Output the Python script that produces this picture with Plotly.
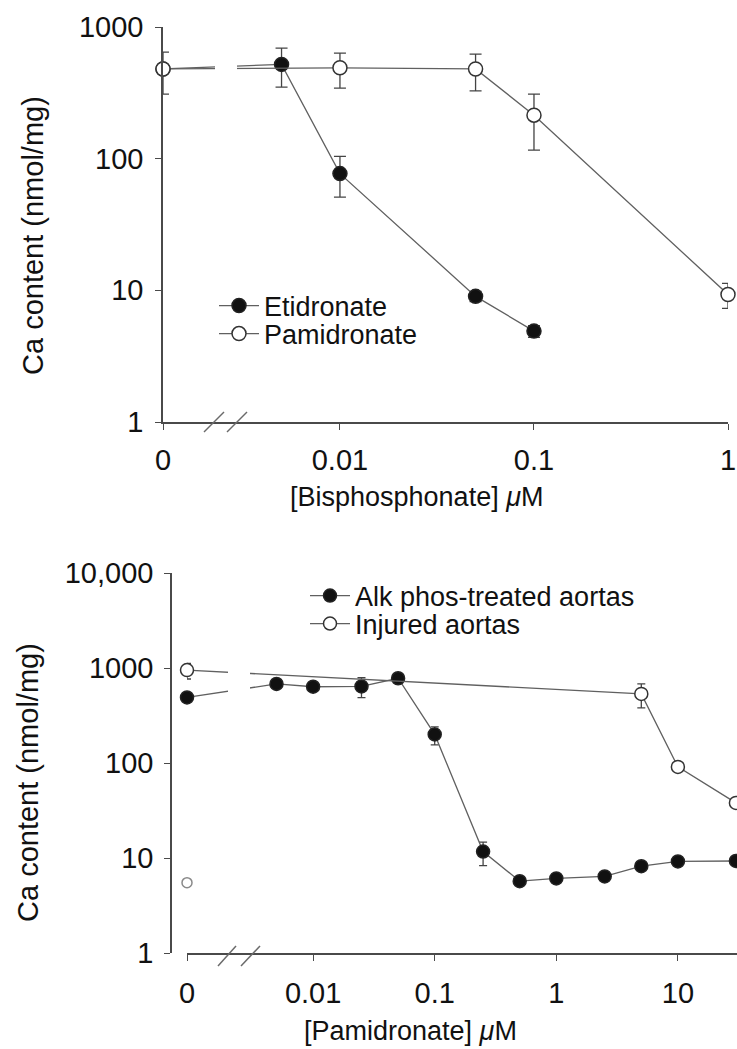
import plotly.graph_objects as go
import math

# ---------------- data ----------------
# Top panel: [Bisphosphonate] uM vs Ca content (nmol/mg)
etid_conc = [0, 0.005, 0.01, 0.05, 0.1]
etid_val = [480, 520, 77, 9.0, 4.9]
etid_err_hi = [0, 170, 27, 0.8, 0.5]
etid_err_lo = [0, 170, 26, 0.8, 0.5]

pami_conc = [0, 0.01, 0.05, 0.1, 1]
pami_val = [480, 490, 480, 214, 9.3]
pami_err_hi = [165, 144, 143, 95, 2.0]
pami_err_lo = [171, 147, 153, 98, 2.0]

top_xticks = [0, 0.01, 0.1, 1]
top_xticktext = ["0", "0.01", "0.1", "1"]
top_yticks = [1, 10, 100, 1000]
top_yticktext = ["1", "10", "100", "1000"]

# Bottom panel: [Pamidronate] uM vs Ca content (nmol/mg)
alk_conc = [0, 0.005, 0.01, 0.025, 0.05, 0.1, 0.25, 0.5, 1, 2.5, 5, 10, 30]
alk_val = [490, 680, 635, 640, 780, 200, 11.7, 5.7, 6.1, 6.4, 8.2, 9.2, 9.3]
alk_err_hi = [30, 60, 60, 150, 40, 40, 3.0, 0.3, 0.3, 0.3, 0.5, 0.5, 0.5]
alk_err_lo = [30, 60, 60, 153, 40, 45, 3.4, 0.3, 0.3, 0.3, 0.5, 0.5, 0.5]

inj_conc = [0, 5, 10, 30]
inj_val = [950, 534, 91, 38]
inj_err_hi = [170, 145, 5, 3]
inj_err_lo = [184, 154, 5, 3]

ctrl_conc = [0]
ctrl_val = [5.5]

bot_xticks = [0, 0.01, 0.1, 1, 10]
bot_xticktext = ["0", "0.01", "0.1", "1", "10"]
bot_yticks = [1, 10, 100, 1000, 10000]
bot_yticktext = ["1", "10", "100", "1000", "10,000"]

# ---------------- layout geometry ----------------
W, H = 737, 1049
ZERO_TOP = 10 ** -2.912   # plotting position of "0" on the log axis (top)
ZERO_BOT = 10 ** -3.037   # plotting position of "0" on the log axis (bottom)


def pos(c, zero):
    return [zero if v == 0 else v for v in c]


FONT = "Liberation Sans, Arial, sans-serif"
LINE_C = "#606060"
AX_C = "#4a4a4a"
TXT_C = "#111111"

fig = go.Figure()


def add_series(x, y, ehi, elo, xa, ya, filled, name, legend, size=14, cap=6, show=True):
    fig.add_trace(go.Scatter(
        x=x, y=y, xaxis=xa, yaxis=ya, name=name, legend=legend,
        mode="lines+markers", showlegend=show, cliponaxis=False,
        line=dict(color=LINE_C, width=1.3),
        marker=dict(size=size, symbol="circle",
                    color="#111111" if filled else "white",
                    line=dict(color="#222222" if filled else "#333333", width=1.5)),
        error_y=dict(type="data", symmetric=False, array=ehi, arrayminus=elo,
                     color="#444444", thickness=1.3, width=cap),
    ))


add_series(pos(etid_conc, ZERO_TOP), etid_val, etid_err_hi, etid_err_lo, "x", "y", True,
           "Etidronate", "legend")
add_series(pos(pami_conc, ZERO_TOP), pami_val, pami_err_hi, pami_err_lo, "x", "y", False,
           "Pamidronate", "legend2")
add_series(pos(alk_conc, ZERO_BOT), alk_val, alk_err_hi, alk_err_lo, "x2", "y2", True,
           "Alk phos-treated aortas", "legend3", size=13, cap=4)
add_series(pos(inj_conc, ZERO_BOT), inj_val, inj_err_hi, inj_err_lo, "x2", "y2", False,
           "Injured aortas", "legend4", size=13, cap=4)
fig.add_trace(go.Scatter(
    x=pos(ctrl_conc, ZERO_BOT), y=ctrl_val, xaxis="x2", yaxis="y2", mode="markers",
    showlegend=False, cliponaxis=False,
    marker=dict(size=10, color="white", line=dict(color="#8a8a8a", width=1.5)),
))

# pixel geometry
TOP_X0, TOP_X1, TOP_Y0, TOP_Y1 = 163, 728, 27, 422
BOT_X0, BOT_X1, BOT_Y0, BOT_Y1 = 187, 737, 573, 953
BOT_YAXIS_X = 171

axis_common = dict(
    type="log", showgrid=False, zeroline=False, showline=True, linecolor=AX_C, linewidth=1.6,
    ticks="outside", tickcolor=AX_C, tickwidth=1.4, ticklen=6,
    tickfont=dict(family=FONT, size=29, color=TXT_C),
)

fig.update_layout(
    width=W, height=H, margin=dict(l=0, r=0, t=0, b=0, autoexpand=False),
    paper_bgcolor="white", plot_bgcolor="rgba(0,0,0,0)",
    font=dict(family=FONT, color=TXT_C),
    xaxis=dict(axis_common, domain=[TOP_X0 / W, TOP_X1 / W], anchor="y",
               range=[math.log10(ZERO_TOP), 0],
               tickvals=pos(top_xticks, ZERO_TOP), ticktext=top_xticktext,
               ticklabelstandoff=5),
    yaxis=dict(axis_common, domain=[1 - TOP_Y1 / H, 1 - TOP_Y0 / H], anchor="x",
               range=[0, 3], tickvals=top_yticks, ticktext=top_yticktext,
               ticklabelstandoff=6),
    xaxis2=dict(axis_common, domain=[BOT_X0 / W, BOT_X1 / W], anchor="y2",
                range=[math.log10(ZERO_BOT), 1.486],
                tickvals=pos(bot_xticks, ZERO_BOT), ticktext=bot_xticktext,
                ticklabelstandoff=7),
    yaxis2=dict(axis_common, domain=[1 - BOT_Y1 / H, 1 - BOT_Y0 / H], anchor="free",
                position=BOT_YAXIS_X / W, range=[0, 4],
                tickvals=bot_yticks, ticktext=bot_yticktext, ticklabelstandoff=5),
)

# legends (one per entry so spacing can match the reference)
leg_font = dict(family=FONT, size=27, color=TXT_C)
for key, xp, yp in [("legend", 214, 306), ("legend2", 214, 334),
                    ("legend3", 305, 596), ("legend4", 305, 624)]:
    fig.update_layout({key: dict(x=xp / W, y=1 - yp / H, xanchor="left", yanchor="middle",
                                 bgcolor="rgba(0,0,0,0)", borderwidth=0, font=leg_font,
                                 itemwidth=40)})

# axis titles
def ann(x, y, text, angle=0, size=27):
    fig.add_annotation(x=x / W, y=1 - y / H, xref="paper", yref="paper", text=text,
                       showarrow=False, textangle=angle,
                       font=dict(family=FONT, size=size, color=TXT_C),
                       xanchor="center", yanchor="middle")

ann(416, 497, "[Bisphosphonate] <i>μ</i>M")
ann(410, 1031, "[Pamidronate] <i>μ</i>M")
ann(33, 236, "Ca content (nmol/mg)", -90, 29)
ann(28, 783, "Ca content (nmol/mg)", -90, 29)

# axis-break gaps in the connecting lines and "//" break marks
def gap(xa, ya, x0, x1, X0, X1):
    span = X1 - X0
    fig.add_shape(type="rect", xref=f"{xa} domain", yref=f"{ya} domain",
                  x0=(x0 - X0) / span, x1=(x1 - X0) / span, y0=0.05, y1=1.0,
                  fillcolor="white", line=dict(width=0), layer="above")

def slash(xa, ya, px0, py0, px1, py1, X0, X1, Y0, Y1):
    fig.add_shape(type="line", xref=f"{xa} domain", yref=f"{ya} domain",
                  x0=(px0 - X0) / (X1 - X0), x1=(px1 - X0) / (X1 - X0),
                  y0=(Y1 - py0) / (Y1 - Y0), y1=(Y1 - py1) / (Y1 - Y0),
                  line=dict(color="#6a6a6a", width=1.5), layer="above")

gap("x", "y", 215, 237, TOP_X0, TOP_X1)
gap("x2", "y2", 228, 250, BOT_X0, BOT_X1)
slash("x", "y", 204, 432, 224, 412, TOP_X0, TOP_X1, TOP_Y0, TOP_Y1)
slash("x", "y", 227, 432, 247, 412, TOP_X0, TOP_X1, TOP_Y0, TOP_Y1)
slash("x2", "y2", 218, 966, 236, 946, BOT_X0, BOT_X1, BOT_Y0, BOT_Y1)
slash("x2", "y2", 241, 966, 260, 946, BOT_X0, BOT_X1, BOT_Y0, BOT_Y1)

fig.write_html("out.html")
